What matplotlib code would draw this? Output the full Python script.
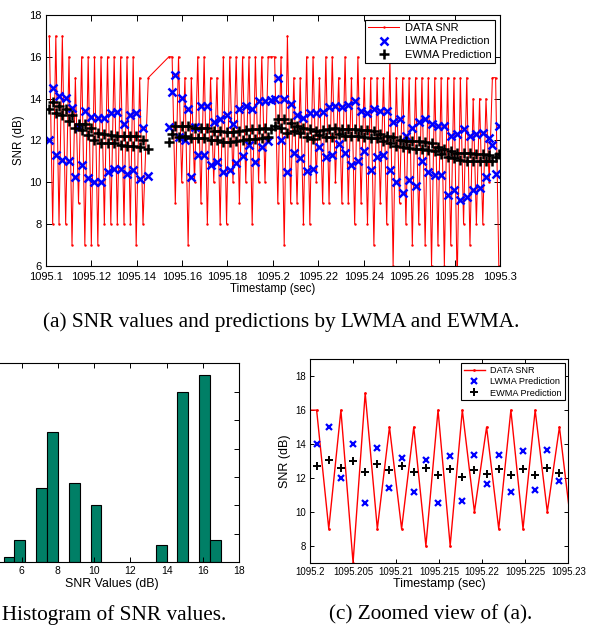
import numpy as np
import matplotlib
matplotlib.use('Agg')
import matplotlib.pyplot as plt

plt.rcParams['font.family'] = ['Liberation Sans', 'DejaVu Sans']

# ---- SNR trace, first burst ----
seg1_time = [1095.1016, 1095.10307, 1095.10446, 1095.10586, 1095.10732, 1095.10879,
             1095.11026, 1095.11158, 1095.11305, 1095.11444, 1095.11583, 1095.11723,
             1095.1187, 1095.12009, 1095.12148, 1095.12295, 1095.12435, 1095.12581,
             1095.12721, 1095.12867, 1095.13014, 1095.13153, 1095.133, 1095.13447,
             1095.13579, 1095.13726, 1095.13851, 1095.13983, 1095.14137, 1095.14283,
             1095.14518]
seg1_snr = [17, 8, 17, 8, 17, 8, 16, 7, 15, 9, 16, 7, 16, 7, 16, 7, 16, 8, 16, 8,
            16, 8, 16, 8, 16, 8, 16, 7, 15, 8, 15]
seg1_lwma = [12.0, 14.5, 11.3, 14.1, 11.05, 14.05, 11.0, 13.55, 10.25, 12.65, 10.8,
             13.4, 10.2, 13.1, 10.0, 13.05, 10.0, 13.05, 10.5, 13.3, 10.65, 13.35,
             10.65, 12.8, 10.4, 13.2, 10.6, 13.3, 10.15, 12.6, 10.3]
seg1_ewma = [13.5, 13.85, 13.3, 13.65, 13.2, 13.5, 12.95, 13.2, 12.6, 12.8, 12.5,
             12.8, 12.25, 12.6, 12.0, 12.35, 11.85, 12.3, 11.85, 12.25, 11.85, 12.2,
             11.8, 12.2, 11.75, 12.2, 11.75, 12.2, 11.7, 12.0, 11.6]

# ---- SNR trace, second burst ----
seg2_time = [1095.15424, 1095.15565, 1095.15706, 1095.15847, 1095.15988, 1095.16129,
             1095.16270, 1095.16411, 1095.16552, 1095.16693, 1095.16834, 1095.16975,
             1095.17116, 1095.17257, 1095.17398, 1095.17539, 1095.17680, 1095.17821,
             1095.17962, 1095.18103, 1095.18244, 1095.18385, 1095.18526, 1095.18667,
             1095.18808, 1095.18949, 1095.19090, 1095.19231, 1095.19372, 1095.19513,
             1095.19654, 1095.19795, 1095.19936, 1095.20077, 1095.20218, 1095.20359,
             1095.20500, 1095.20641, 1095.20782, 1095.20923, 1095.21064, 1095.21205,
             1095.21346, 1095.21487, 1095.21628, 1095.21769, 1095.21910, 1095.22051,
             1095.22192, 1095.22333, 1095.22474, 1095.22615, 1095.22756, 1095.22897,
             1095.23038, 1095.23179, 1095.23320, 1095.23461, 1095.23602, 1095.23743,
             1095.23884, 1095.24025, 1095.24166, 1095.24307, 1095.24448, 1095.24589,
             1095.24730, 1095.24871, 1095.25012, 1095.25153, 1095.25294, 1095.25435,
             1095.25576, 1095.25717, 1095.25858, 1095.25999, 1095.26140, 1095.26281,
             1095.26422, 1095.26563, 1095.26704, 1095.26845, 1095.26986, 1095.27127,
             1095.27268, 1095.27409, 1095.27550, 1095.27691, 1095.27832, 1095.27973,
             1095.28114, 1095.28255, 1095.28396, 1095.28537, 1095.28678, 1095.28819,
             1095.28960, 1095.29101, 1095.29242, 1095.29383, 1095.29524, 1095.29665,
             1095.29806, 1095.29947]
seg2_snr = [16, 16, 9, 16, 10, 15, 7, 15, 10, 16,
            9, 16, 8, 15, 10, 15, 8, 16, 8, 16,
            10, 16, 9, 16, 10, 16, 8, 16, 10, 16,
            10, 16, 16, 16, 9, 16, 7, 17, 9, 15,
            9, 15, 8, 16, 8, 16, 10, 15, 9, 16,
            9, 16, 10, 15, 9, 16, 9, 15, 8, 16,
            9, 15, 8, 15, 7, 15, 9, 15, 8, 16,
            6, 15, 9, 15, 8, 15, 7, 15, 8, 15,
            7, 15, 6, 15, 7, 15, 6, 15, 7, 15,
            5, 15, 8, 15, 7, 14, 8, 14, 8, 14,
            10, 15, 15, 6]
seg2_lwma = [12.65, 14.3, 15.15, 12.15, 14.05, 12.0, 13.5, 10.25, 12.65, 11.3,
             13.65, 11.3, 13.65, 10.8, 12.9, 10.95, 13.0, 10.5, 13.2, 10.6,
             12.8, 10.9, 13.5, 11.25, 13.65, 11.8, 13.5, 10.95, 13.9, 11.7,
             13.9, 11.95, 13.95, 14.0, 15.0, 12.0, 14.0, 10.5, 13.75, 11.4,
             13.2, 11.15, 13.05, 10.55, 13.3, 10.65, 13.33, 11.67, 13.35, 11.2,
             13.6, 11.3, 13.65, 11.82, 13.6, 11.4, 13.7, 10.8, 13.9, 11.0,
             13.4, 11.5, 13.3, 10.6, 13.5, 11.2, 13.4, 11.3, 13.4, 10.6,
             12.9, 10.0, 13.0, 9.5, 12.2, 10.1, 12.6, 9.8, 12.9, 11.0,
             13.0, 10.5, 12.8, 10.35, 12.7, 10.35, 12.7, 9.4, 12.2, 9.6,
             12.3, 9.15, 12.56, 9.3, 12.2, 9.6, 12.3, 9.7, 12.35, 10.25,
             12.1, 11.8, 10.4, 12.7]
seg2_ewma = [11.92, 12.3, 12.7, 12.15, 12.7, 12.2, 12.7, 12.1, 12.6, 12.1,
             12.6, 12.1, 12.6, 12.0, 12.45, 12.0, 12.45, 11.9, 12.4, 11.9,
             12.4, 11.95, 12.45, 12.0, 12.5, 12.05, 12.55, 12.05, 12.55, 12.1,
             12.6, 12.15, 12.55, 12.7, 13.04, 12.6, 13.0, 12.37, 12.84, 12.45,
             12.7, 12.35, 12.6, 12.18, 12.55, 12.08, 12.47, 12.25, 12.5, 12.18,
             12.55, 12.18, 12.6, 12.3, 12.55, 12.2, 12.55, 12.2, 12.55, 12.2,
             12.5, 12.15, 12.5, 12.1, 12.45, 12.1, 12.3, 11.95, 12.2, 11.85,
             12.15, 11.75, 12.0, 11.7, 11.95, 11.65, 11.95, 11.6, 11.95, 11.6,
             11.9, 11.55, 11.85, 11.5, 11.7, 11.35, 11.6, 11.2, 11.5, 11.15,
             11.4, 11.05, 11.4, 11.0, 11.4, 11.0, 11.35, 11.0, 11.35, 11.0,
             11.3, 11.0, 11.2, 11.35]

# ---- histogram of SNR values ----
hist_centers = [5.3, 5.9, 7.1, 7.7, 8.9, 10.1, 13.7, 14.9, 16.1, 16.7]
hist_counts = [1, 4, 13, 23, 14, 10, 3, 30, 33, 4]

time = seg1_time + seg2_time
snr = seg1_snr + seg2_snr
lwma = seg1_lwma + seg2_lwma
ewma = seg1_ewma + seg2_ewma

W, H = 598, 625
fig = plt.figure(figsize=(W / 100, H / 100), dpi=100)


def box(x0, y0, x1, y1):
    return [x0 / W, 1 - y1 / H, (x1 - x0) / W, (y1 - y0) / H]


def matlab_axes(ax, size, tlen, pad=3):
    ax.tick_params(direction='in', top=True, right=True, length=tlen, width=0.7,
                   labelsize=size, pad=pad)
    for s in ax.spines.values():
        s.set_linewidth(0.8)


fmt = lambda v: '%.7g' % v

# (a) full trace
ax = fig.add_axes(box(45.7, 15, 500, 265.7))
ax.plot(time, snr, '.-', color='r', lw=0.75, ms=1.5, label='DATA SNR')
ax.plot(time, lwma, 'x', color='b', ms=5.5, mew=1.8, label='LWMA Prediction')
ax.plot(time, ewma, '+', color='k', ms=6.5, mew=1.8, label='EWMA Prediction')
ax.set_xlim(1095.1, 1095.3)
ax.set_ylim(6, 18)
xt = [1095.1, 1095.12, 1095.14, 1095.16, 1095.18, 1095.2, 1095.22, 1095.24,
      1095.26, 1095.28, 1095.3]
ax.set_xticks(xt)
ax.set_xticklabels([fmt(v) for v in xt])
ax.set_yticks([6, 8, 10, 12, 14, 16, 18])
matlab_axes(ax, 8, 4)
ax.tick_params(axis='x', pad=4.5)
ax.set_xlabel('Timestamp (sec)', fontsize=8.3, labelpad=0.5)
ax.set_ylabel('SNR (dB)', fontsize=8.3, labelpad=3)
lg = ax.legend(loc='upper right', fontsize=8, numpoints=1, fancybox=False,
               edgecolor='k', framealpha=1, borderaxespad=0.45, borderpad=0.3,
               labelspacing=0.28, handlelength=2.8, handletextpad=0.5)
lg.get_frame().set_linewidth(0.8)

# (b) histogram
axb = fig.add_axes(box(-14.5, 363.3, 239, 562.3))
axb.bar(hist_centers, hist_counts, width=0.6, color='#007f66', edgecolor='k', lw=0.8)
axb.set_xlim(4, 18)
axb.set_ylim(0, 35)
hx = [4, 6, 8, 10, 12, 14, 16, 18]
axb.set_xticks(hx)
axb.set_xticklabels([''] + [str(v) for v in hx[1:]])
axb.set_yticks([0, 5, 10, 15, 20, 25, 30, 35])
matlab_axes(axb, 7.5, 3.5)
axb.tick_params(axis='y', labelleft=False)
axb.set_xlabel('SNR Values (dB)', fontsize=8.9, labelpad=1)

# (c) zoomed view
axc = fig.add_axes(box(310, 359.3, 568.3, 562.7))
axc.plot(time, snr, '.-', color='r', lw=1.0, ms=2, label='DATA SNR')
axc.plot(time, lwma, 'x', color='b', ms=4.5, mew=1.6, label='LWMA Prediction')
axc.plot(time, ewma, '+', color='k', ms=5.5, mew=1.4, label='EWMA Prediction')
axc.set_xlim(1095.2, 1095.23)
axc.set_ylim(7, 19)
xc = [1095.2, 1095.205, 1095.21, 1095.215, 1095.22, 1095.225, 1095.23]
axc.set_xticks(xc)
axc.set_xticklabels([fmt(v) for v in xc])
axc.set_yticks([8, 10, 12, 14, 16, 18])
matlab_axes(axc, 6.9, 3)
axc.set_xlabel('Timestamp (sec)', fontsize=9, labelpad=1)
axc.set_ylabel('SNR (dB)', fontsize=9, labelpad=3)
lgc = axc.legend(loc='upper right', fontsize=6.6, numpoints=1, fancybox=False,
                 edgecolor='k', framealpha=1, borderaxespad=0.4, borderpad=0.3,
                 labelspacing=0.27, handlelength=2.3, handletextpad=0.6)
lgc.get_frame().set_linewidth(0.8)

# captions, all in one size taken from the width of caption (a)
r = fig.canvas.get_renderer()
cap_a = fig.text(281 / W, 1 - 322 / H, '(a) SNR values and predictions by LWMA and EWMA.',
                 ha='center', va='center', family='Liberation Serif', fontsize=12)
cs = 12 * 476 / cap_a.get_window_extent(r).width
cap_a.set_fontsize(cs)
fig.text(226 / W, 1 - 615 / H, '(b) Histogram of SNR values.', ha='right', va='center',
         family='Liberation Serif', fontsize=cs)
fig.text(532 / W, 1 - 615 / H, '(c) Zoomed view of (a).', ha='right', va='center',
         family='Liberation Serif', fontsize=cs)

fig.savefig('out.png', dpi=100)
